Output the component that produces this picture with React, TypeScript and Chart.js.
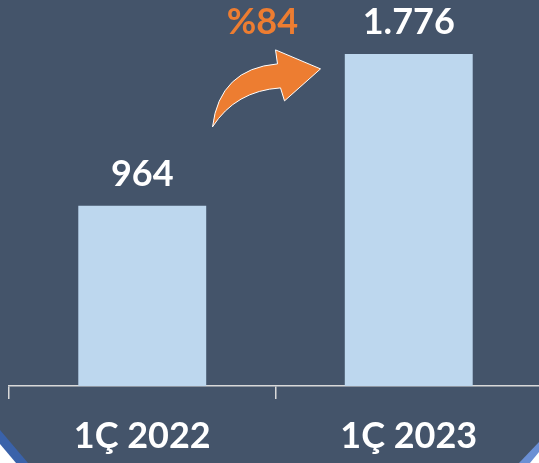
import React, { useEffect, useRef } from "react";
import { Chart, registerables } from "chart.js";

Chart.register(...registerables);

const categories = ["1Ç 2022", "1Ç 2023"];
const values = [964, 1776];
const growthLabel = "%84";

const BG = "#44546A";
const BAR = "#BDD7EE";
const ORANGE = "#ED7D31";
const FONT = "Lato, 'DejaVu Sans', sans-serif";

function fmt(v: number): string {
  return String(v).replace(/\B(?=(\d{3})+(?!\d))/g, ".");
}

const decorPlugin = {
  id: "decor",
  beforeDraw(chart: any) {
    const { ctx, width, height } = chart;
    ctx.save();
    ctx.fillStyle = BG;
    ctx.fillRect(0, 0, width, height);
    ctx.restore();
  },
  afterDraw(chart: any) {
    const { ctx } = chart;
    const H = 463;
    const W = 539;
    ctx.save();
    ctx.fillStyle = "#3A62AA";
    ctx.beginPath();
    ctx.moveTo(0, H - 33);
    ctx.lineTo(28, H);
    ctx.lineTo(0, H);
    ctx.closePath();
    ctx.fill();
    ctx.fillStyle = "#FFFFFF";
    ctx.beginPath();
    ctx.moveTo(0, H - 19);
    ctx.lineTo(16, H);
    ctx.lineTo(0, H);
    ctx.closePath();
    ctx.fill();
    ctx.fillStyle = "#6A8FD4";
    ctx.beginPath();
    ctx.moveTo(W, H - 21);
    ctx.lineTo(W, H);
    ctx.lineTo(W - 20, H);
    ctx.closePath();
    ctx.fill();
    ctx.fillStyle = "#FFFFFF";
    ctx.beginPath();
    ctx.moveTo(W, H - 11);
    ctx.lineTo(W, H);
    ctx.lineTo(W - 9, H);
    ctx.closePath();
    ctx.fill();
    ctx.restore();
  },
  afterDatasetsDraw(chart: any) {
    const { ctx } = chart;
    const meta = chart.getDatasetMeta(0);
    ctx.save();
    ctx.fillStyle = "#FFFFFF";
    ctx.font = `bold 36px ${FONT}`;
    ctx.textAlign = "center";
    ctx.textBaseline = "middle";
    meta.data.forEach((bar: any, i: number) => {
      ctx.fillText(fmt(values[i]), bar.x, bar.y - 31);
    });

    const x0 = meta.data[0].x;
    const x1 = meta.data[1].x;
    const mx = (x0 + x1) / 2;
    const yb = meta.data[1].y;
    const P = (dx: number, dy: number) => [mx + dx, yb + dy];
    ctx.beginPath();
    const t = P(-63, 73);
    ctx.moveTo(t[0], t[1]);
    let c = P(-56, 15);
    let e = P(2, 10);
    ctx.quadraticCurveTo(c[0], c[1], e[0], e[1]);
    e = P(0, -4);
    ctx.lineTo(e[0], e[1]);
    e = P(45, 15);
    ctx.lineTo(e[0], e[1]);
    e = P(9, 47);
    ctx.lineTo(e[0], e[1]);
    e = P(5, 34);
    ctx.lineTo(e[0], e[1]);
    c = P(-40, 37);
    ctx.quadraticCurveTo(c[0], c[1], t[0], t[1]);
    ctx.closePath();
    ctx.fillStyle = ORANGE;
    ctx.fill();
    ctx.strokeStyle = "#FFFFFF";
    ctx.lineWidth = 1;
    ctx.stroke();

    ctx.fillStyle = ORANGE;
    ctx.font = `bold 36px ${FONT}`;
    ctx.fillText(growthLabel, mx - 13, yb - 31);
    ctx.restore();
  },
};

export default function App() {
  const ref = useRef<HTMLCanvasElement | null>(null);
  useEffect(() => {
    if (!ref.current) return;
    const chart = new Chart(ref.current, {
      type: "bar",
      data: {
        labels: categories,
        datasets: [
          {
            data: values,
            backgroundColor: BAR,
            borderWidth: 0,
            categoryPercentage: 0.96,
            barPercentage: 0.5,
          },
        ],
      },
      options: {
        animation: false,
        responsive: false,
        layout: { padding: { left: 9, right: 0, top: 12, bottom: 0 } },
        plugins: { legend: { display: false }, tooltip: { enabled: false } },
        scales: {
          x: {
            afterFit: (s: any) => {
              s.height = 77;
            },
            border: { display: true, color: "#D9D9D9", width: 1.5 },
            grid: {
              display: true,
              drawOnChartArea: false,
              drawTicks: true,
              tickLength: 13,
              color: "#D9D9D9",
              lineWidth: 1.5,
              offset: true,
            },
            ticks: {
              color: "#FFFFFF",
              font: { family: FONT, size: 36, weight: "bold" },
              padding: 16,
            },
          },
          y: { display: false, min: 0, max: 2000 },
        },
      },
      plugins: [decorPlugin],
    });
    return () => chart.destroy();
  }, []);
  return (
    <div
      style={{
        position: "fixed",
        left: 0,
        top: 0,
        width: 539,
        height: 463,
        overflow: "hidden",
        background: BG,
      }}
    >
      <canvas ref={ref} width={542} height={463} style={{ display: "block" }} />
    </div>
  );
}
